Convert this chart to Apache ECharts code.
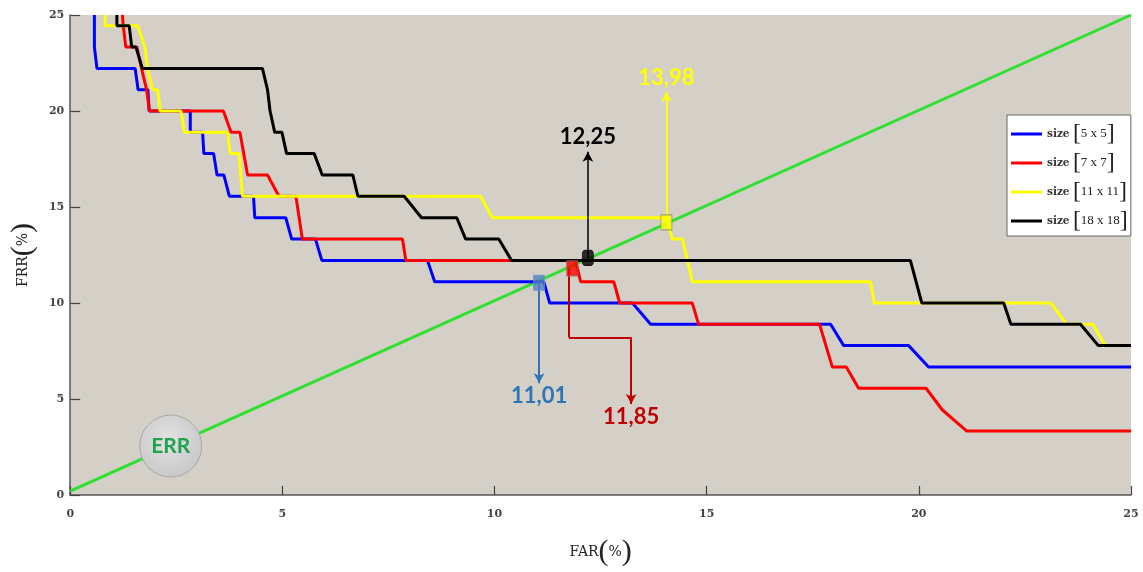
<!DOCTYPE html>
<html>
<head>
<meta charset="utf-8">
<script src="https://cdn.jsdelivr.net/npm/echarts@6/dist/echarts.min.js"></script>
<style>
  html, body { margin: 0; padding: 0; background: #fff; }
  #chart { width: 1143px; height: 572px; }
</style>
</head>
<body>
<div id="chart"></div>
<script>
// FAR (x) / FRR (y) in %
const far5 = [0.57, 0.57, 0.63, 1.53, 1.60, 1.83, 1.86, 2.83, 2.83, 3.12, 3.15, 3.38, 3.46, 3.62, 3.75, 4.32, 4.35, 5.08, 5.22, 5.78, 5.93, 8.42, 8.59, 11.16, 11.30, 13.25, 13.68, 17.92, 18.23, 19.76, 20.23, 25];
const frr5 = [25, 23.33, 22.22, 22.22, 21.11, 21.11, 20, 20, 18.89, 18.89, 17.78, 17.78, 16.67, 16.67, 15.56, 15.56, 14.44, 14.44, 13.33, 13.33, 12.22, 12.22, 11.11, 11.11, 10, 10, 8.89, 8.89, 7.78, 7.78, 6.67, 6.67];

const far7 = [1.23, 1.25, 1.31, 1.57, 1.68, 1.80, 1.87, 3.61, 3.79, 4.00, 4.18, 4.65, 4.92, 5.32, 5.47, 7.83, 7.91, 11.91, 12.03, 12.81, 12.95, 14.66, 14.81, 17.66, 17.96, 18.29, 18.58, 20.17, 20.55, 21.13, 25];
const frr7 = [25, 24.44, 23.33, 23.33, 22.22, 21.11, 20, 20, 18.89, 18.89, 16.67, 16.67, 15.56, 15.56, 13.33, 13.33, 12.22, 12.22, 11.11, 11.11, 10, 10, 8.89, 8.89, 6.67, 6.67, 5.56, 5.56, 4.44, 3.33, 3.33];

const far11 = [0.82, 0.82, 1.59, 1.76, 1.82, 1.94, 2.06, 2.12, 2.61, 2.69, 3.71, 3.77, 3.98, 4.06, 9.67, 9.95, 14.05, 14.19, 14.43, 14.66, 18.86, 18.95, 23.11, 23.49, 24.10, 24.39, 25];
const frr11 = [25, 24.44, 24.44, 23.33, 22.22, 21.11, 21.11, 20, 20, 18.89, 18.89, 17.78, 17.78, 15.56, 15.56, 14.44, 14.44, 13.33, 13.33, 11.11, 11.11, 10, 10, 8.89, 8.89, 7.78, 7.78];

const far18 = [1.10, 1.10, 1.39, 1.45, 1.55, 1.70, 4.53, 4.65, 4.71, 4.82, 4.99, 5.10, 5.75, 5.94, 6.66, 6.78, 7.87, 8.28, 9.11, 9.32, 10.10, 10.40, 19.80, 20.07, 22.00, 22.17, 23.81, 24.23, 25];
const frr18 = [25, 24.44, 24.44, 23.33, 23.33, 22.22, 22.22, 21.11, 20, 18.89, 18.89, 17.78, 17.78, 16.67, 16.67, 15.56, 15.56, 14.44, 14.44, 13.33, 13.33, 12.22, 12.22, 10, 10, 8.89, 8.89, 7.78, 7.78];

// diagonal FAR = FRR
const diagFar = [0, 25];
const diagFrr = [0.2, 25];

const seriesNames = ["size [5 x 5]", "size [7 x 7]", "size [11 x 11]", "size [18 x 18]"];
const seriesColors = ["#0000ff", "#ff0000", "#ffff00", "#000000"];

// EER points and their call-outs
const eerFar = [11.05, 11.83, 12.2, 14.05];
const eerFrr = [11.05, 11.8, 12.35, 14.2];
const eerText = ["11,01", "11,85", "12,25", "13,98"];
const eerColors = ["#4f81bd", "#ff0000", "#000000", "#ffff00"];
const eerBorders = ["#7394c8", "#a06060", "#000000", "#8c8c70"];
const labelColors = ["#2e75b6", "#c00000", "#000000", "#ffff00"];
const arrowTipFrr = [5.82, 4.74, 17.88, 21.0];
const redElbow = [[11.75, 8.21], [13.22, 8.21]];
const errSpot = [2.37, 2.55];

function zip(xs, ys) {
  return xs.map((x, i) => [x, ys[i]]);
}

const curves = [[far5, frr5], [far7, frr7], [far11, frr11], [far18, frr18]];

const lineSeries = curves.map((c, i) => ({
  name: seriesNames[i],
  type: "line",
  data: zip(c[0], c[1]),
  symbol: "none",
  showSymbol: false,
  z: 3 + i,
  lineStyle: { color: seriesColors[i], width: 3 },
  itemStyle: { color: seriesColors[i] },
}));

const calloutFont = { fontFamily: "Lato", fontWeight: "bold", fontSize: 22 };

function arrow(from, to, idx, withHead, dist) {
  return [
    {
      coord: from,
      symbol: "none",
      lineStyle: { color: labelColors[idx], width: idx == 2 ? 1.5 : 2, type: "solid" },
      label: withHead
        ? Object.assign({ show: true, position: "end", distance: dist, formatter: eerText[idx], color: labelColors[idx] }, calloutFont)
        : { show: false },
    },
    { coord: to, symbol: withHead ? "arrow" : "none" },
  ];
}

const arrows = [
  arrow([eerFar[0], eerFrr[0]], [eerFar[0], arrowTipFrr[0]], 0, true, 2),
  arrow([redElbow[0][0], eerFrr[1]], redElbow[0], 1, false),
  arrow(redElbow[0], redElbow[1], 1, false),
  arrow(redElbow[1], [redElbow[1][0], arrowTipFrr[1]], 1, true, 2),
  arrow([eerFar[2], eerFrr[2]], [eerFar[2], arrowTipFrr[2]], 2, true, 4),
  arrow([eerFar[3], eerFrr[3]], [eerFar[3], arrowTipFrr[3]], 3, true, 3),
];

const serif = "DejaVu Serif";

const option = {
  animation: false,
  backgroundColor: "#ffffff",
  grid: {
    left: 69,
    top: 15,
    right: 12,
    bottom: 77,
    show: true,
    backgroundColor: "#d4d0c8",
    borderWidth: 0,
  },
  legend: {
    data: seriesNames,
    orient: "vertical",
    left: 1007,
    top: 115,
    padding: [7, 3, 3, 4],
    itemGap: 5,
    itemWidth: 31,
    itemHeight: 3,
    icon: "rect",
    backgroundColor: "#ffffff",
    borderColor: "#666666",
    borderWidth: 1,
    selectedMode: false,
    formatter: (name) => {
      const inner = name.match(/\[(.*)\]/)[1];
      return "{s|size} {b|[}{n|" + inner + "}{b|]}";
    },
    textStyle: {
      rich: {
        s: { fontFamily: serif, fontWeight: "bold", fontSize: 10.5, color: "#333", lineHeight: 26 },
        b: { fontFamily: "Liberation Serif", fontSize: 24, color: "#222", lineHeight: 26 },
        n: { fontFamily: "Liberation Serif", fontSize: 13, color: "#222", lineHeight: 26 },
      },
    },
  },
  xAxis: {
    type: "value",
    min: 0,
    max: 25,
    interval: 5,
    name: "{a|FAR}{p|(}{a|%}{p|)}",
    nameLocation: "middle",
    nameGap: 42,
    nameTextStyle: {
      rich: {
        a: { fontFamily: serif, fontSize: 14, color: "#222" },
        p: { fontFamily: "Liberation Serif", fontSize: 30, color: "#222" },
      },
    },
    axisLine: { show: true, lineStyle: { color: "#555", width: 1.5 } },
    axisTick: { show: true, inside: true, length: 9, lineStyle: { color: "#444", width: 1.2 } },
    splitLine: { show: false },
    axisLabel: { margin: 14, fontFamily: serif, fontWeight: "bold", fontSize: 11, color: "#444" },
  },
  yAxis: {
    type: "value",
    min: 0,
    max: 25,
    interval: 5,
    name: "{a|FRR}{p|(}{a|%}{p|)}",
    nameLocation: "middle",
    nameGap: 26,
    nameTextStyle: {
      rich: {
        a: { fontFamily: serif, fontSize: 14, color: "#222" },
        p: { fontFamily: "Liberation Serif", fontSize: 30, color: "#222" },
      },
    },
    axisLine: { show: true, lineStyle: { color: "#555", width: 1.5 } },
    axisTick: { show: true, inside: true, length: 10, lineStyle: { color: "#444", width: 1.2 } },
    splitLine: { show: false },
    axisLabel: { margin: 6, fontFamily: serif, fontWeight: "bold", fontSize: 11, color: "#444" },
  },
  series: [
    {
      name: "EER",
      type: "line",
      data: zip(diagFar, diagFrr),
      symbol: "none",
      z: 2,
      lineStyle: { color: "#2ee02e", width: 3 },
      markPoint: {
        z: 6,
        silent: true,
        data: [
          {
            coord: errSpot,
            symbol: "circle",
            symbolSize: 62,
            itemStyle: {
              color: new echarts.graphic.RadialGradient(0.45, 0.4, 0.7, [
                { offset: 0, color: "#e2e2e2" },
                { offset: 1, color: "#c4c4c4" },
              ]),
              borderColor: "#a8a8a8",
              borderWidth: 1,
            },
            label: {
              show: true,
              position: "inside",
              formatter: "ERR",
              color: "#1ea34f",
              fontFamily: "Lato",
              fontWeight: "bold",
              fontSize: 21,
            },
          },
        ],
      },
      markLine: {
        z: 8,
        silent: true,
        symbolSize: [8, 10],
        data: arrows,
      },
    },
    ...lineSeries,
    {
      name: "eer-points",
      type: "scatter",
      z: 12,
      silent: true,
      data: eerFar.map((x, i) => ({
        value: [x, eerFrr[i]],
        symbol: i == 2 ? "roundRect" : "rect",
        symbolSize: [11, 15],
        itemStyle: { color: eerColors[i], borderColor: eerBorders[i], borderWidth: 1 },
      })),
    },
  ],
};

const chart = echarts.init(document.getElementById("chart"));
chart.setOption(option);
</script>
</body>
</html>
